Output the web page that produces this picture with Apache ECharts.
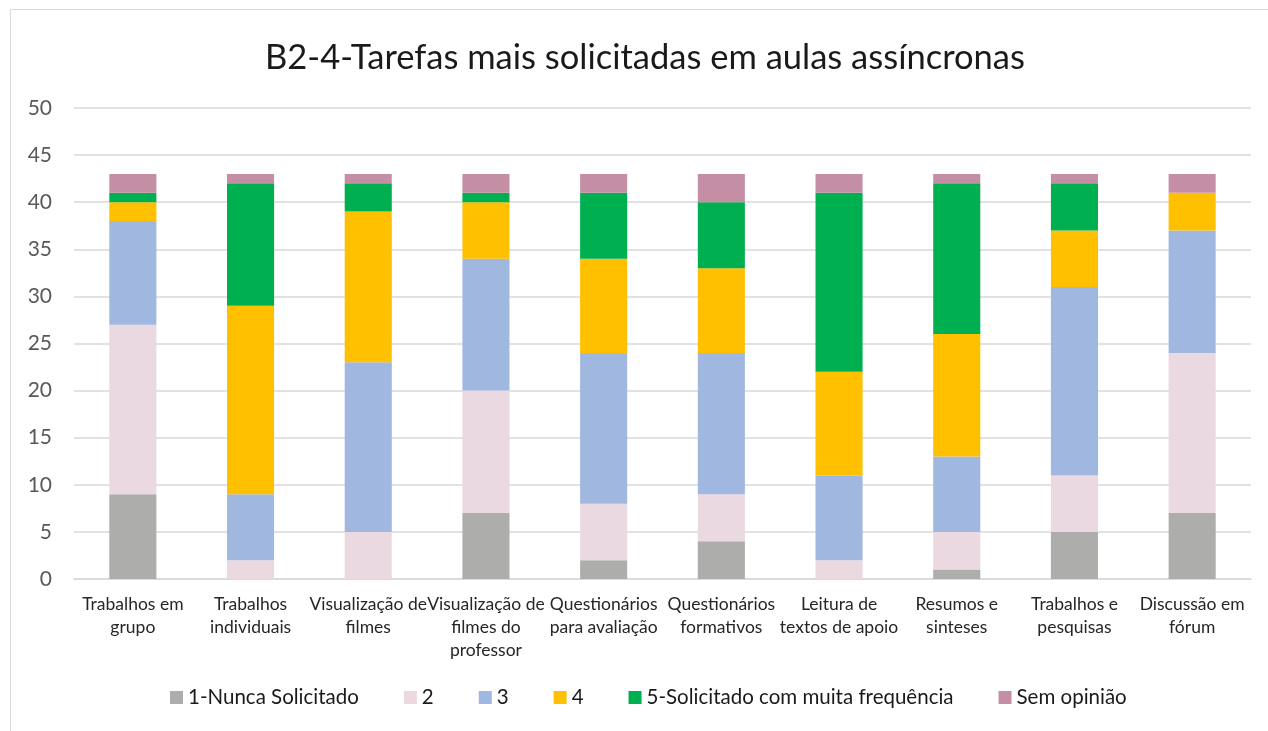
<!DOCTYPE html>
<html><head><meta charset="utf-8">
<script src="https://cdn.jsdelivr.net/npm/echarts@6/dist/echarts.min.js"></script>
<style>html,body{margin:0;padding:0;background:#fff}#c{width:1268px;height:731px}</style>
</head><body><div id="c"></div>
<script>
const categories = ["Trabalhos em\ngrupo","Trabalhos\nindividuais","Visualização de\nfilmes","Visualização de\nfilmes do\nprofessor","Questionários\npara avaliação","Questionários\nformativos","Leitura de\ntextos de apoio","Resumos e\nsinteses","Trabalhos e\npesquisas","Discussão em\nfórum"];
const seriesNames = ["1-Nunca Solicitado","2","3","4","5-Solicitado com muita frequência","Sem opinião"];
const s1 = [9,0,0,7,2,4,0,1,5,7];
const s2 = [18,2,5,13,6,5,2,4,6,17];
const s3 = [11,7,18,14,16,15,9,8,20,13];
const s4 = [2,20,16,6,10,9,11,13,6,4];
const s5 = [1,13,3,1,7,7,19,16,5,0];
const s6 = [2,1,1,2,2,3,2,1,1,2];
const yTicks = [0,5,10,15,20,25,30,35,40,45,50];
const colors = ["#ADADAC","#EAD9E1","#A0B7E0","#FFC000","#00B050","#C48FA5"];
const data = [s1,s2,s3,s4,s5,s6];
const FONT = "Lato";
const chart = echarts.init(document.getElementById('c'), null, {renderer:'canvas'});
chart.setOption({
  animation:false,
  textStyle:{fontFamily:FONT},
  graphic:[{type:'rect',shape:{x:10.5,y:9.5,width:1300,height:800},style:{fill:'none',stroke:'#D9D9D9',lineWidth:1},silent:true}],
  title:{text:"B2-4-Tarefas mais solicitadas em aulas assíncronas",left:260,top:35,
    textStyle:{fontFamily:FONT,fontSize:34.5,fontWeight:'normal',color:'#1a1a1a'}},
  legend:{bottom:18,left:165,itemWidth:13,itemHeight:13,itemGap:45,icon:'rect',
    textStyle:{fontFamily:FONT,fontSize:20.5,color:'#1a1a1a'},data:seriesNames},
  grid:{left:74,right:17,top:108,bottom:152,containLabel:false},
  xAxis:{type:'category',data:categories,
    axisLine:{lineStyle:{color:'#D9D9D9',width:1.5}},axisTick:{show:false},
    axisLabel:{interval:0,fontFamily:FONT,fontSize:17.5,color:'#262626',lineHeight:23,margin:14}},
  yAxis:{type:'value',min:0,max:50,interval:5,
    axisLine:{show:false},axisTick:{show:false},
    splitLine:{lineStyle:{color:'#D9D9D9',width:1.5}},
    axisLabel:{fontFamily:FONT,fontSize:21,color:'#595959',margin:22,
      formatter:v=>yTicks.includes(v)?String(v):''}},
  series:seriesNames.map((n,i)=>({name:n,type:'bar',stack:'t',barWidth:'40%',
    itemStyle:{color:colors[i]},data:data[i]}))
});
</script></body></html>
